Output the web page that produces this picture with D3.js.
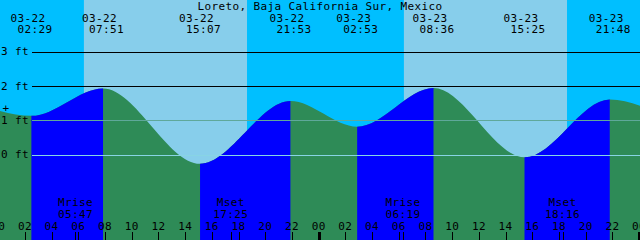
<!DOCTYPE html>
<html>
<head>
<meta charset="utf-8">
<script src="https://cdn.jsdelivr.net/npm/d3@7"></script>
<style>
  body { margin: 0; background: #fff; }
  svg { display: block; }
  text { font-family: 'DejaVu Sans Mono', monospace; font-size: 11px; letter-spacing: 0.38px; fill: #000; }
</style>
</head>
<body>
<div id="chart"></div>
<script>
const title = 'Loreto, Baja California Sur, Mexico';

// high / low tides (first and last are just outside the window, estimated)
const tideTimes = ['2024-03-21 22:00', '2024-03-22 02:29', '2024-03-22 07:51', '2024-03-22 15:07',
  '2024-03-22 21:53', '2024-03-23 02:53', '2024-03-23 08:36', '2024-03-23 15:25',
  '2024-03-23 21:48', '2024-03-24 03:35'];
const tideHeights = [1.55, 1.13, 1.93, -0.27, 1.56, 0.81, 1.94, -0.08, 1.61, 0.70];

const sunrises = ['2024-03-22 06:25', '2024-03-23 06:23'];
const sunsets = ['2024-03-22 18:38', '2024-03-23 18:36'];

const moonNames = ['Mrise', 'Mset', 'Mrise', 'Mset'];
const moonTimes = ['2024-03-22 05:47', '2024-03-22 17:25', '2024-03-23 06:19', '2024-03-23 18:16'];

const levels = [0, 1, 2, 3];

const W = 640, H = 240;
const parse = d3.utcParse('%Y-%m-%d %H:%M');
const fmtDate = d3.utcFormat('%m-%d');
const fmtTime = d3.utcFormat('%H:%M');
const fmtHour = d3.utcFormat('%H');
const charW = 7;

const x = d3.scaleUtc()
  .domain([parse('2024-03-22 00:08'), parse('2024-03-24 00:04')])
  .range([0, W]);
const y = d3.scaleLinear().domain([0, 3]).range([154.6, 51.7]);

const tides = tideTimes.map((t, i) => ({ t: parse(t), h: tideHeights[i] }));

const svg = d3.select('#chart').append('svg')
  .attr('width', W)
  .attr('height', H);

// night everywhere, day between sunrise and sunset
svg.append('rect')
  .attr('width', W).attr('height', H)
  .attr('fill', '#00bfff');

svg.selectAll('.day')
  .data(sunrises)
  .join('rect')
  .attr('class', 'day')
  .attr('x', d => x(parse(d)))
  .attr('y', 0)
  .attr('width', (d, i) => x(parse(sunsets[i])) - x(parse(d)))
  .attr('height', H)
  .attr('fill', '#87ceeb');

// water
const area = d3.area()
  .x(d => x(d.t))
  .y0(H)
  .y1(d => y(d.h))
  .curve(d3.curveMonotoneX);

svg.append('clipPath')
  .attr('id', 'water')
  .append('path')
  .attr('d', area(tides));

const water = svg.append('g').attr('clip-path', 'url(#water)');

water.append('rect')
  .attr('width', W).attr('height', H)
  .attr('fill', '#2e8b57');

// rising tide in blue
water.selectAll('.flood')
  .data(tides.slice(0, -1).filter((d, i) => tides[i + 1].h > d.h))
  .join('rect')
  .attr('class', 'flood')
  .attr('x', d => x(d.t))
  .attr('y', 0)
  .attr('width', d => x(tides[tides.indexOf(d) + 1].t) - x(d.t))
  .attr('height', H)
  .attr('fill', '#0000ff');

// level lines
svg.selectAll('.level')
  .data(levels)
  .join('line')
  .attr('class', 'level')
  .attr('x1', 32).attr('x2', W)
  .attr('y1', d => Math.round(y(d)) + 0.5)
  .attr('y2', d => Math.round(y(d)) + 0.5)
  .attr('stroke', d => d >= 2 ? '#000' : (d === 1 ? '#5fa89a' : '#88d4e4'))
  .attr('stroke-width', 1);

svg.selectAll('.levelLabel')
  .data(levels)
  .join('text')
  .attr('class', 'levelLabel')
  .attr('x', 1)
  .attr('y', d => y(d) + 3.5)
  .text(d => d + ' ft');

svg.append('text')
  .attr('x', 6)
  .attr('y', 112)
  .attr('text-anchor', 'middle')
  .text('+');

// title
svg.append('text')
  .attr('x', W / 2)
  .attr('y', 9.5)
  .attr('text-anchor', 'middle')
  .text(title);

// tide time labels
const shown = tides.filter(d => d.t >= x.domain()[0] && d.t <= x.domain()[1]);

svg.selectAll('.tDate')
  .data(shown)
  .join('text')
  .attr('class', 'tDate')
  .attr('x', d => x(d.t) - 3 * charW)
  .attr('y', 22)
  .text(d => fmtDate(d.t));

svg.selectAll('.tTime')
  .data(shown)
  .join('text')
  .attr('class', 'tTime')
  .attr('x', d => x(d.t) - 2 * charW)
  .attr('y', 33)
  .text(d => fmtTime(d.t));

// moon labels
const moon = moonTimes.map((t, i) => ({ t: parse(t), name: moonNames[i] }));

svg.selectAll('.mName')
  .data(moon)
  .join('text')
  .attr('class', 'mName')
  .attr('x', d => x(d.t))
  .attr('y', 206)
  .attr('text-anchor', 'middle')
  .text(d => d.name);

svg.selectAll('.mTime')
  .data(moon)
  .join('text')
  .attr('class', 'mTime')
  .attr('x', d => x(d.t))
  .attr('y', 217.5)
  .attr('text-anchor', 'middle')
  .text(d => fmtTime(d.t));

// hour ticks every 2 hours
const hours = d3.utcHour.every(2).range(d3.utcHour.offset(x.domain()[0], -1), d3.utcHour.offset(x.domain()[1], 1));

svg.selectAll('.hLabel')
  .data(hours)
  .join('text')
  .attr('class', 'hLabel')
  .attr('x', d => x(d))
  .attr('y', 230)
  .attr('text-anchor', 'middle')
  .text(d => fmtHour(d));

svg.selectAll('.hTick')
  .data(hours)
  .join('rect')
  .attr('class', 'hTick')
  .attr('x', d => Math.round(x(d)) - (d.getUTCHours() === 0 ? 1 : 0))
  .attr('y', 232)
  .attr('width', d => d.getUTCHours() === 0 ? 3 : 1)
  .attr('height', 8)
  .attr('fill', '#000');

svg.selectAll('.mTick')
  .data(moon)
  .join('rect')
  .attr('class', 'mTick')
  .attr('x', d => Math.round(x(d.t)))
  .attr('y', 232)
  .attr('width', 1)
  .attr('height', 8)
  .attr('fill', '#000');
</script>
</body>
</html>
